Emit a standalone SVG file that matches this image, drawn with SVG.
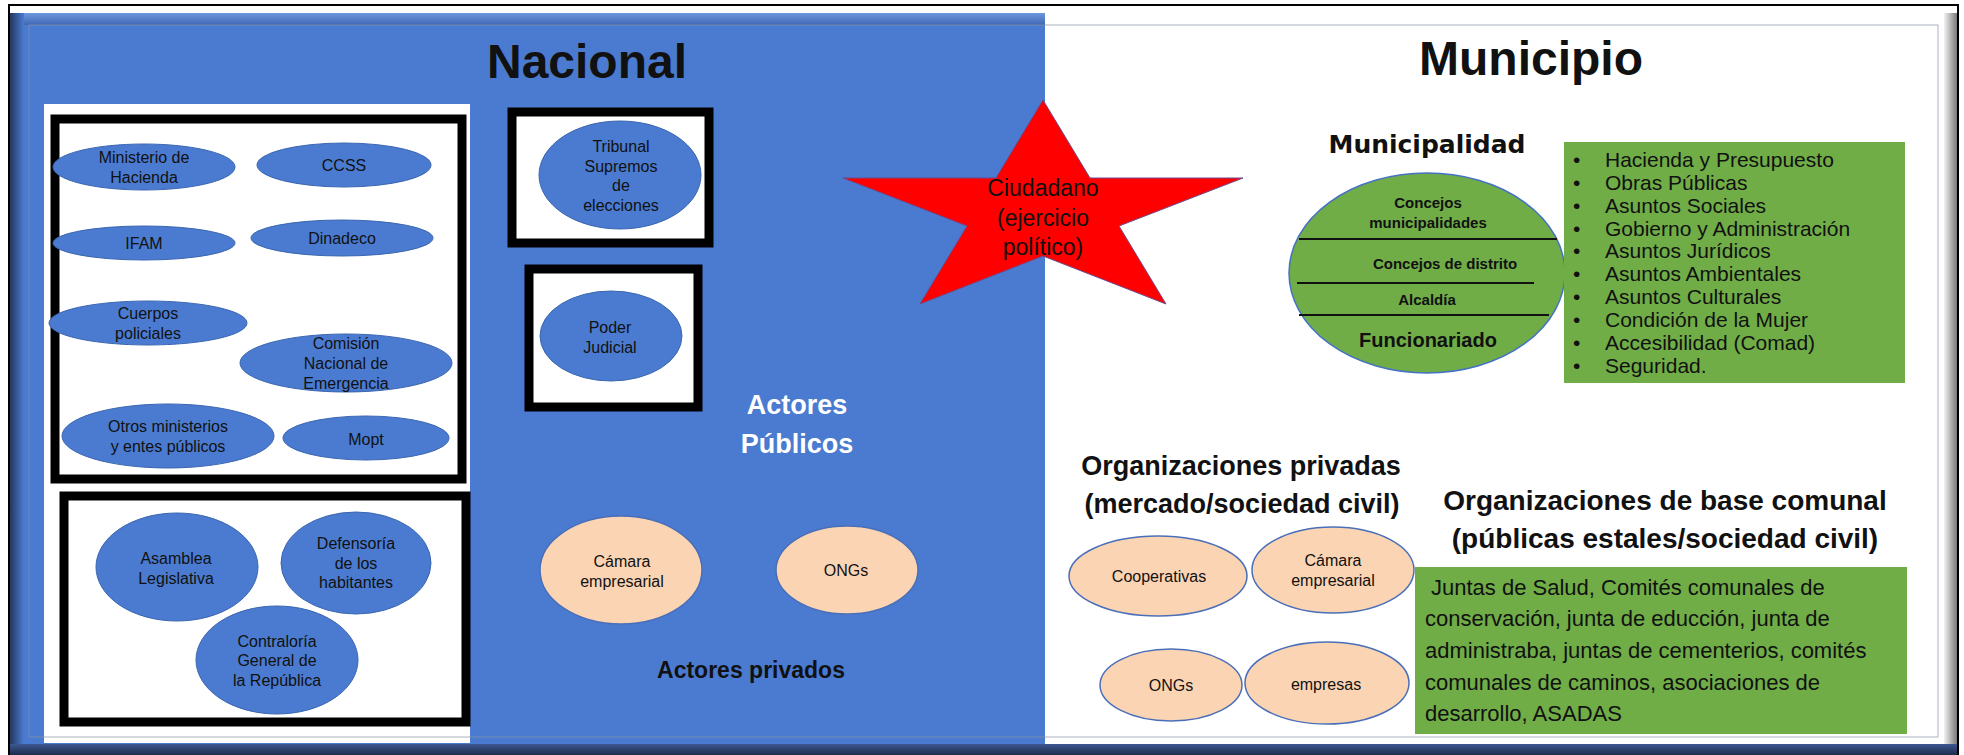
<svg xmlns="http://www.w3.org/2000/svg" width="1964" height="755" viewBox="0 0 1964 755">
<defs>
<linearGradient id="gTop" x1="0" y1="0" x2="0" y2="1"><stop offset="0" stop-color="#6f97dc"/><stop offset="1" stop-color="#3f68b5"/></linearGradient>
<linearGradient id="gLeft" x1="0" y1="0" x2="1" y2="0"><stop offset="0" stop-color="#24395f"/><stop offset="1" stop-color="#4a7bd0"/></linearGradient>
<linearGradient id="gRight" x1="0" y1="0" x2="1" y2="0"><stop offset="0" stop-color="#f2f2f2"/><stop offset="1" stop-color="#7a7a7a"/></linearGradient>
<linearGradient id="gBottom" x1="0" y1="0" x2="0" y2="1"><stop offset="0" stop-color="#3c5790"/><stop offset="1" stop-color="#1d2c4c"/></linearGradient>
<style>
.t{font-family:"Liberation Sans",Arial,sans-serif;fill:#111;text-anchor:middle}
.sm{font-size:16px}
.b{font-weight:bold}
.be{fill:#4a7bd0;stroke:#3b66b0;stroke-width:1}
.pe{fill:#fbd4b4;stroke:#4a6fb8;stroke-width:1.5}
.box{fill:#fff;stroke:#000;stroke-width:9}
.li{font-family:"Liberation Sans",Arial,sans-serif;font-size:21px;fill:#111}
</style>
</defs>
<rect x="0" y="0" width="1964" height="755" fill="#fff"/>
<g id="frame">
<rect x="10" y="13" width="1035" height="742" fill="#4a7bd0"/>
<rect x="10" y="13" width="1035" height="12" fill="url(#gTop)"/>
<rect x="10" y="13" width="14" height="742" fill="url(#gLeft)"/>
<rect x="1944" y="13" width="13" height="742" fill="url(#gRight)"/>
</g>
<g id="nacional">
<text class="t b" x="587" y="78" font-size="48">Nacional</text>
<rect x="44" y="104" width="426" height="639" fill="#fff"/>
</g>
<g id="box-gobierno">
<rect class="box" x="55" y="119" width="407" height="360"/>
<ellipse class="be" cx="144" cy="167" rx="91" ry="23"/>
<text class="t sm" x="144" y="162.5">Ministerio de</text><text class="t sm" x="144" y="182.5">Hacienda</text>
<ellipse class="be" cx="344" cy="165" rx="87" ry="22"/>
<text class="t sm" x="344" y="170.5">CCSS</text>
<ellipse class="be" cx="144" cy="243" rx="91" ry="17"/>
<text class="t sm" x="144" y="248.5">IFAM</text>
<ellipse class="be" cx="342" cy="238" rx="91" ry="18"/>
<text class="t sm" x="342" y="243.5">Dinadeco</text>
<ellipse class="be" cx="148" cy="323" rx="99" ry="22"/>
<text class="t sm" x="148" y="318.5">Cuerpos</text><text class="t sm" x="148" y="338.5">policiales</text>
<ellipse class="be" cx="346" cy="363" rx="106" ry="29"/>
<text class="t sm" x="346" y="348.5">Comisión</text><text class="t sm" x="346" y="368.5">Nacional de</text><text class="t sm" x="346" y="388.5">Emergencia</text>
<ellipse class="be" cx="168" cy="436" rx="106" ry="32"/>
<text class="t sm" x="168" y="431.5">Otros ministerios</text><text class="t sm" x="168" y="451.5">y entes públicos</text>
<ellipse class="be" cx="366" cy="438" rx="83" ry="22"/>
<text class="t sm" x="366" y="444.5">Mopt</text>
</g>
<g id="box-control">
<rect class="box" x="64" y="496" width="402" height="226"/>
<ellipse class="be" cx="177" cy="567" rx="81" ry="54"/>
<text class="t sm" x="176" y="563.5">Asamblea</text><text class="t sm" x="176" y="583.5">Legislativa</text>
<ellipse class="be" cx="356" cy="563" rx="75" ry="51"/>
<text class="t sm" x="356" y="548.5">Defensoría</text><text class="t sm" x="356" y="568.5">de los</text><text class="t sm" x="356" y="587.5">habitantes</text>
<ellipse class="be" cx="277" cy="660" rx="81" ry="54"/>
<text class="t sm" x="277" y="646.5">Contraloría</text><text class="t sm" x="277" y="665.5">General de</text><text class="t sm" x="277" y="685.5">la República</text>
</g>
<g id="tribunal">
<rect class="box" x="512" y="112" width="197" height="131"/>
<ellipse class="be" cx="620" cy="175" rx="81" ry="54"/>
<text class="t sm" x="621" y="151.5">Tribunal</text><text class="t sm" x="621" y="171.5">Supremos</text><text class="t sm" x="621" y="190.5">de</text><text class="t sm" x="621" y="210.5">elecciones</text>
</g>
<g id="poder-judicial">
<rect class="box" x="529" y="269" width="169" height="138"/>
<ellipse class="be" cx="611" cy="336" rx="71" ry="45"/>
<text class="t sm" x="610" y="332.5">Poder</text><text class="t sm" x="610" y="352.5">Judicial</text>
</g>
<g id="actores-publicos">
<text class="t b" x="797" y="414" font-size="27" style="fill:#fff">Actores</text>
<text class="t b" x="797" y="453" font-size="27" style="fill:#fff">Públicos</text>
</g>
<g id="actores-privados-nac">
<ellipse class="pe" cx="621" cy="570" rx="81" ry="54"/>
<text class="t sm" x="622" y="566.5">Cámara</text><text class="t sm" x="622" y="586.5">empresarial</text>
<ellipse class="pe" cx="847" cy="570" rx="71" ry="44"/>
<text class="t sm" x="846" y="575.5">ONGs</text>
<text class="t b" x="751" y="678" font-size="23">Actores privados</text>
</g>
<g id="ciudadano">
<polygon points="1043,100 1090,178 1243,178 1119,226 1166,304 1043,256 920,304 967,226 843,178 996,178" fill="#ff0000" stroke="#6d4a8a" stroke-width="1"/>
<text class="t" x="1043" y="196" font-size="23">Ciudadano</text>
<text class="t" x="1043" y="226" font-size="23">(ejercicio</text>
<text class="t" x="1043" y="255" font-size="23">político)</text>
</g>
<g id="municipio">
<text class="t b" x="1531" y="75" font-size="48">Municipio</text>
</g>
<g id="municipalidad">
<text x="1427" y="153" font-family="'DejaVu Sans',sans-serif" font-weight="bold" font-size="25" text-anchor="middle" fill="#111">Municipalidad</text>
<ellipse cx="1427" cy="273" rx="138" ry="100" fill="#70ad47" stroke="#4472c4" stroke-width="1.5"/>
<line x1="1299" y1="239" x2="1557" y2="239" stroke="#111" stroke-width="2"/>
<line x1="1297" y1="283" x2="1534" y2="283" stroke="#111" stroke-width="2"/>
<line x1="1299" y1="315" x2="1549" y2="315" stroke="#111" stroke-width="2"/>
<text class="t b" x="1428" y="208" font-size="15">Concejos</text>
<text class="t b" x="1428" y="228" font-size="15">municipalidades</text>
<text class="t b" x="1445" y="269" font-size="15">Concejos de distrito</text>
<text class="t b" x="1427" y="305" font-size="15">Alcaldía</text>
<text class="t b" x="1428" y="347" font-size="20">Funcionariado</text>
</g>
<g id="comisiones">
<rect x="1564" y="142" width="341" height="241" fill="#70ad47"/>
<g class="li">
<text x="1573" y="167">•</text><text x="1605" y="167">Hacienda y Presupuesto</text>
<text x="1573" y="190">•</text><text x="1605" y="190">Obras Públicas</text>
<text x="1573" y="213">•</text><text x="1605" y="213">Asuntos Sociales</text>
<text x="1573" y="236">•</text><text x="1605" y="236">Gobierno y Administración</text>
<text x="1573" y="258">•</text><text x="1605" y="258">Asuntos Jurídicos</text>
<text x="1573" y="281">•</text><text x="1605" y="281">Asuntos Ambientales</text>
<text x="1573" y="304">•</text><text x="1605" y="304">Asuntos Culturales</text>
<text x="1573" y="327">•</text><text x="1605" y="327">Condición de la Mujer</text>
<text x="1573" y="350">•</text><text x="1605" y="350">Accesibilidad (Comad)</text>
<text x="1573" y="373">•</text><text x="1605" y="373">Seguridad.</text>
</g>
</g>
<g id="org-privadas">
<text class="t b" x="1241" y="475" font-size="27">Organizaciones privadas</text>
<text class="t b" x="1242" y="513" font-size="27">(mercado/sociedad civil)</text>
<ellipse class="pe" cx="1158" cy="576" rx="89" ry="40"/>
<text class="t sm" x="1159" y="581.5">Cooperativas</text>
<ellipse class="pe" cx="1333" cy="570" rx="81" ry="43"/>
<text class="t sm" x="1333" y="565.5">Cámara</text><text class="t sm" x="1333" y="585.5">empresarial</text>
<ellipse class="pe" cx="1171" cy="685" rx="71" ry="36"/>
<text class="t sm" x="1171" y="690.5">ONGs</text>
<ellipse class="pe" cx="1327" cy="683" rx="82" ry="41"/>
<text class="t sm" x="1326" y="689.5">empresas</text>
</g>
<g id="org-comunal">
<text class="t b" x="1665" y="510" font-size="28">Organizaciones de base comunal</text>
<text class="t b" x="1665" y="548" font-size="28">(públicas estales/sociedad civil)</text>
<rect x="1415" y="567" width="492" height="167" fill="#70ad47"/>
<g font-family="'Liberation Sans',Arial,sans-serif" font-size="22" fill="#111">
<text x="1431" y="595">Juntas de Salud, Comités comunales de</text>
<text x="1425" y="626">conservación, junta de educción, junta de</text>
<text x="1425" y="658">administraba, juntas de cementerios, comités</text>
<text x="1425" y="690">comunales de caminos, asociaciones de</text>
<text x="1425" y="721">desarrollo, ASADAS</text>
</g>
</g>
<g id="connectors"></g>
<g id="frame-top">
<rect x="10" y="744" width="1947" height="11" fill="url(#gBottom)"/>
<rect x="29" y="25" width="1909" height="712" fill="none" stroke="#8a93a6" stroke-opacity="0.7" stroke-width="1"/>
<rect x="9" y="5" width="1949" height="760" fill="none" stroke="#000" stroke-width="2"/>
</g>
</svg>
